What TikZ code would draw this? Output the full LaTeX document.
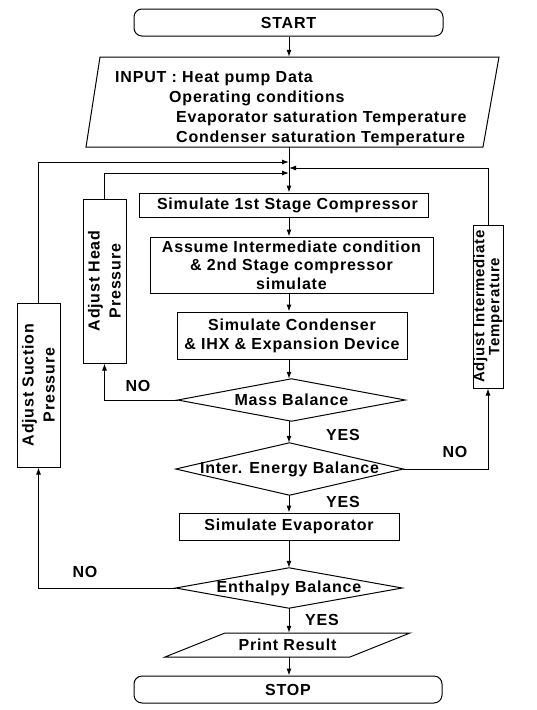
\documentclass[tikz,border=0pt]{standalone}
\usepackage{fontspec}
\setmainfont{Liberation Sans}[LetterSpace=5]
\usetikzlibrary{arrows.meta}
\begin{document}
\begin{tikzpicture}[x=1pt,y=-1pt,
  every node/.style={font=\bfseries\fontsize{16}{19}\selectfont},
  box/.style={draw,line width=1pt,inner sep=0pt},
  term/.style={box,rounded corners=8pt},
  ghost/.style={inner sep=0pt},
  vbox/.style={box,rotate=90,align=center},
  lbl/.style={inner sep=0pt},
  conn/.style={line width=1pt,-{Latex[length=7pt,width=5pt]}},
  wire/.style={line width=1pt}]
\useasboundingbox (0,0) rectangle (536,710);
\coordinate (ax) at (289,0);
% terminals
\node[term,minimum width=309pt,minimum height=27pt] (start) at (288.5,22.5) {START};
\node[term,minimum width=308pt,minimum height=27pt] (stop) at (288,689.5) {STOP};
% input parallelogram
\node[ghost,minimum width=413pt,minimum height=90pt] (in) at (292.5,102) {};
\draw[wire] (100,57) -- (499,57) -- (483,147) -- (86,147) -- cycle;
\node[lbl,anchor=north west,align=left,font=\bfseries\fontsize{16}{20}\selectfont] (intext) at (115,71)
  {INPUT : Heat pump Data\\
   \hspace*{54pt}Operating conditions\\
   \hspace*{61pt}Evaporator saturation Temperature\\
   \hspace*{61pt}Condenser saturation Temperature};
% process boxes
\node[box,minimum width=289pt,minimum height=24pt] (s1) at (283.5,205) {\hspace*{8pt}Simulate 1st Stage Compressor};
\node[box,minimum width=283pt,minimum height=56pt,align=center,font=\bfseries\fontsize{16}{18.5}\selectfont] (s2) at (291.5,265)
  {Assume Intermediate condition\\ \& 2nd Stage compressor\\ simulate};
\node[box,minimum width=230pt,minimum height=47pt,align=center] (s3) at (292,335.5)
  {Simulate Condenser\\ \& IHX \& Expansion Device};
\node[ghost,minimum width=227pt,minimum height=42pt] (mass) at (291.5,400) {Mass Balance};
\node[ghost,minimum width=227pt,minimum height=52pt] (ener) at (289.5,469) {Inter. Energy Balance};
\node[box,minimum width=220pt,minimum height=27pt] (evap) at (289,526.5) {Simulate Evaporator};
\node[ghost,minimum width=226pt,minimum height=40pt] (enth) at (289,588) {Enthalpy Balance};
\foreach \n in {mass,ener,enth}
  \draw[wire] (\n.west) -- (\n.north) -- (\n.east) -- (\n.south) -- cycle;
% print result parallelogram
\node[ghost,minimum width=245pt,minimum height=24pt] (pr) at (287.5,645) {Print Result};
\draw[wire] (225,633) -- (410,633) -- (350,657) -- (165,657) -- cycle;
% adjust boxes
\node[vbox,minimum width=164pt,minimum height=43pt,font=\bfseries\fontsize{16}{21}\selectfont] (head) at (104.5,281) {Adjust Head\\Pressure};
\node[vbox,minimum width=164pt,minimum height=43pt,font=\bfseries\fontsize{16}{21}\selectfont] (suct) at (38.5,385) {Adjust Suction\\Pressure};
\node[vbox,minimum width=163pt,minimum height=30pt,font=\bfseries\fontsize{15}{15}\selectfont] (intm) at (488,306.5) {Adjust Intermediate\\Temperature};
% junctions on main line
\coordinate (j1) at (289,162);
\coordinate (j2) at (289,173);
\coordinate (j3) at (289,168);
% main flow
\draw[conn] (start.south -| ax) -- (in.north -| ax);
\draw[wire] (in.south -| ax) -- (j1);
\draw[conn] (j1) -- (s1.north -| ax);
\draw[conn] (s1.south -| ax) -- (s2.north -| ax);
\draw[conn] (s2.south -| ax) -- (s3.north -| ax);
\draw[conn] (s3.south -| ax) -- (mass.north -| ax);
\draw[conn] (mass.south -| ax) -- (ener.north -| ax);
\draw[conn] (ener.south -| ax) -- (evap.north -| ax);
\draw[conn] (evap.south -| ax) -- (enth.north -| ax);
\draw[conn] (enth.south -| ax) -- (pr.north -| ax);
\draw[conn] (pr.south -| ax) -- (stop.north -| ax);
% loops
\draw[conn] (mass.west) -| (head.west);
\draw[conn] (head.east) |- (j2);
\draw[conn] (ener.east) -| (intm.west);
\draw[conn] (intm.east) |- (j3);
\draw[conn] (enth.west) -| (suct.west);
\draw[conn] (suct.east) |- (j1);
% labels
\node[lbl] (no1) at (138,386) {NO};
\node[lbl] (yes1) at (343,435) {YES};
\node[lbl] (no2) at (455,452) {NO};
\node[lbl] (yes2) at (343,502) {YES};
\node[lbl] (no3) at (85,572) {NO};
\node[lbl] (yes3) at (322,620) {YES};
\end{tikzpicture}
\end{document}
